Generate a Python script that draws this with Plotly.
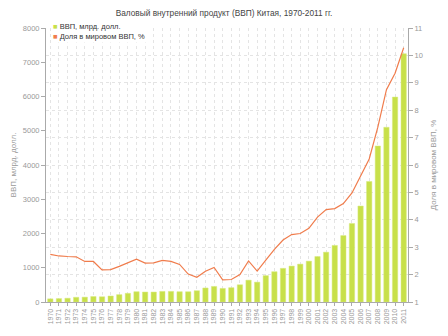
import plotly.graph_objects as go

years = [str(y) for y in range(1970, 2012)]
gdp = [92, 100, 110, 138, 142, 160, 153, 175, 215, 254,
       301, 291, 291, 310, 310, 301, 300, 330, 410, 455,
       397, 418, 503, 638, 580, 770, 885, 983, 1049, 1106,
       1193, 1328, 1455, 1652, 1940, 2293, 2802, 3520, 4555, 5101,
       5983, 7250]
share = [2.74, 2.68, 2.66, 2.65, 2.48, 2.48, 2.17, 2.18, 2.30, 2.44,
         2.56, 2.42, 2.43, 2.52, 2.48, 2.37, 2.02, 1.90, 2.12, 2.26,
         1.81, 1.82, 2.00, 2.50, 2.13, 2.53, 2.92, 3.26, 3.46, 3.50,
         3.69, 4.10, 4.37, 4.41, 4.59, 4.98, 5.61, 6.22, 7.38, 8.75,
         9.35, 10.28]

title = "Валовый внутренний продукт (ВВП) Китая, 1970-2011 гг."
name_gdp = "ВВП, млрд. долл."
name_share = "Доля в мировом ВВП, %"

bar_color = "#c8e04a"
line_color = "#f07c4c"
grey = "#999999"
axis_col = "#aaaaaa"
font_family = "Liberation Sans"

fig = go.Figure()
fig.add_trace(go.Bar(x=years, y=gdp, name=name_gdp,
                     marker=dict(color=bar_color, line=dict(color="#d8ea80", width=0.5)),
                     showlegend=False, yaxis="y"))
fig.add_trace(go.Scatter(x=years, y=share, name=name_share, mode="lines",
                         line=dict(color=line_color, width=1.2), showlegend=False, yaxis="y2"))

fig.update_layout(
    width=448, height=336,
    margin=dict(l=41, r=26, t=28, b=29),
    paper_bgcolor="white", plot_bgcolor="white",
    font=dict(family=font_family, size=8, color=grey),
    bargap=0.38,
    title=dict(text=title, x=0.5, xanchor="center", y=1 - 13 / 336, yanchor="middle",
               font=dict(family=font_family, size=8.3, color="#444444")),
    xaxis=dict(type="category", tickangle=-90, tickmode="linear", dtick=1,
               tickfont=dict(size=7, color=grey),
               showgrid=True, gridcolor="#e4e4e4", griddash="dot", gridwidth=1,
               showline=True, linecolor=axis_col, ticks="outside", ticklen=3, tickcolor=axis_col,
               range=[-0.5, 41.5]),
    yaxis=dict(range=[0, 8000], dtick=1000, showgrid=False, zeroline=False,
               showline=True, linecolor=axis_col, ticks="outside", ticklen=4, tickcolor=axis_col,
               tickfont=dict(size=7.5, color=grey),
               title=dict(text=name_gdp, font=dict(size=8, color=grey), standoff=5)),
    yaxis2=dict(range=[1, 11], dtick=1, overlaying="y", side="right",
                showgrid=True, gridcolor="#e4e4e4", griddash="dot", zeroline=False,
                showline=True, linecolor=axis_col, ticks="outside", ticklen=4, tickcolor=axis_col,
                tickfont=dict(size=7.5, color=grey),
                title=dict(text=name_share, font=dict(size=8, color=grey), standoff=8)),
)

legend_text = (f"<span style='color:{bar_color}'>■</span> <span style='color:#333'>{name_gdp}</span><br>"
               f"<span style='color:{line_color}'>■</span> <span style='color:#333'>{name_share}</span>")
fig.add_annotation(text=legend_text, xref="paper", yref="paper", x=0.015, y=1.03,
                   xanchor="left", yanchor="top", align="left", showarrow=False,
                   bgcolor="white", font=dict(family=font_family, size=7.5, color="#333"))

fig.write_html("out.html")
